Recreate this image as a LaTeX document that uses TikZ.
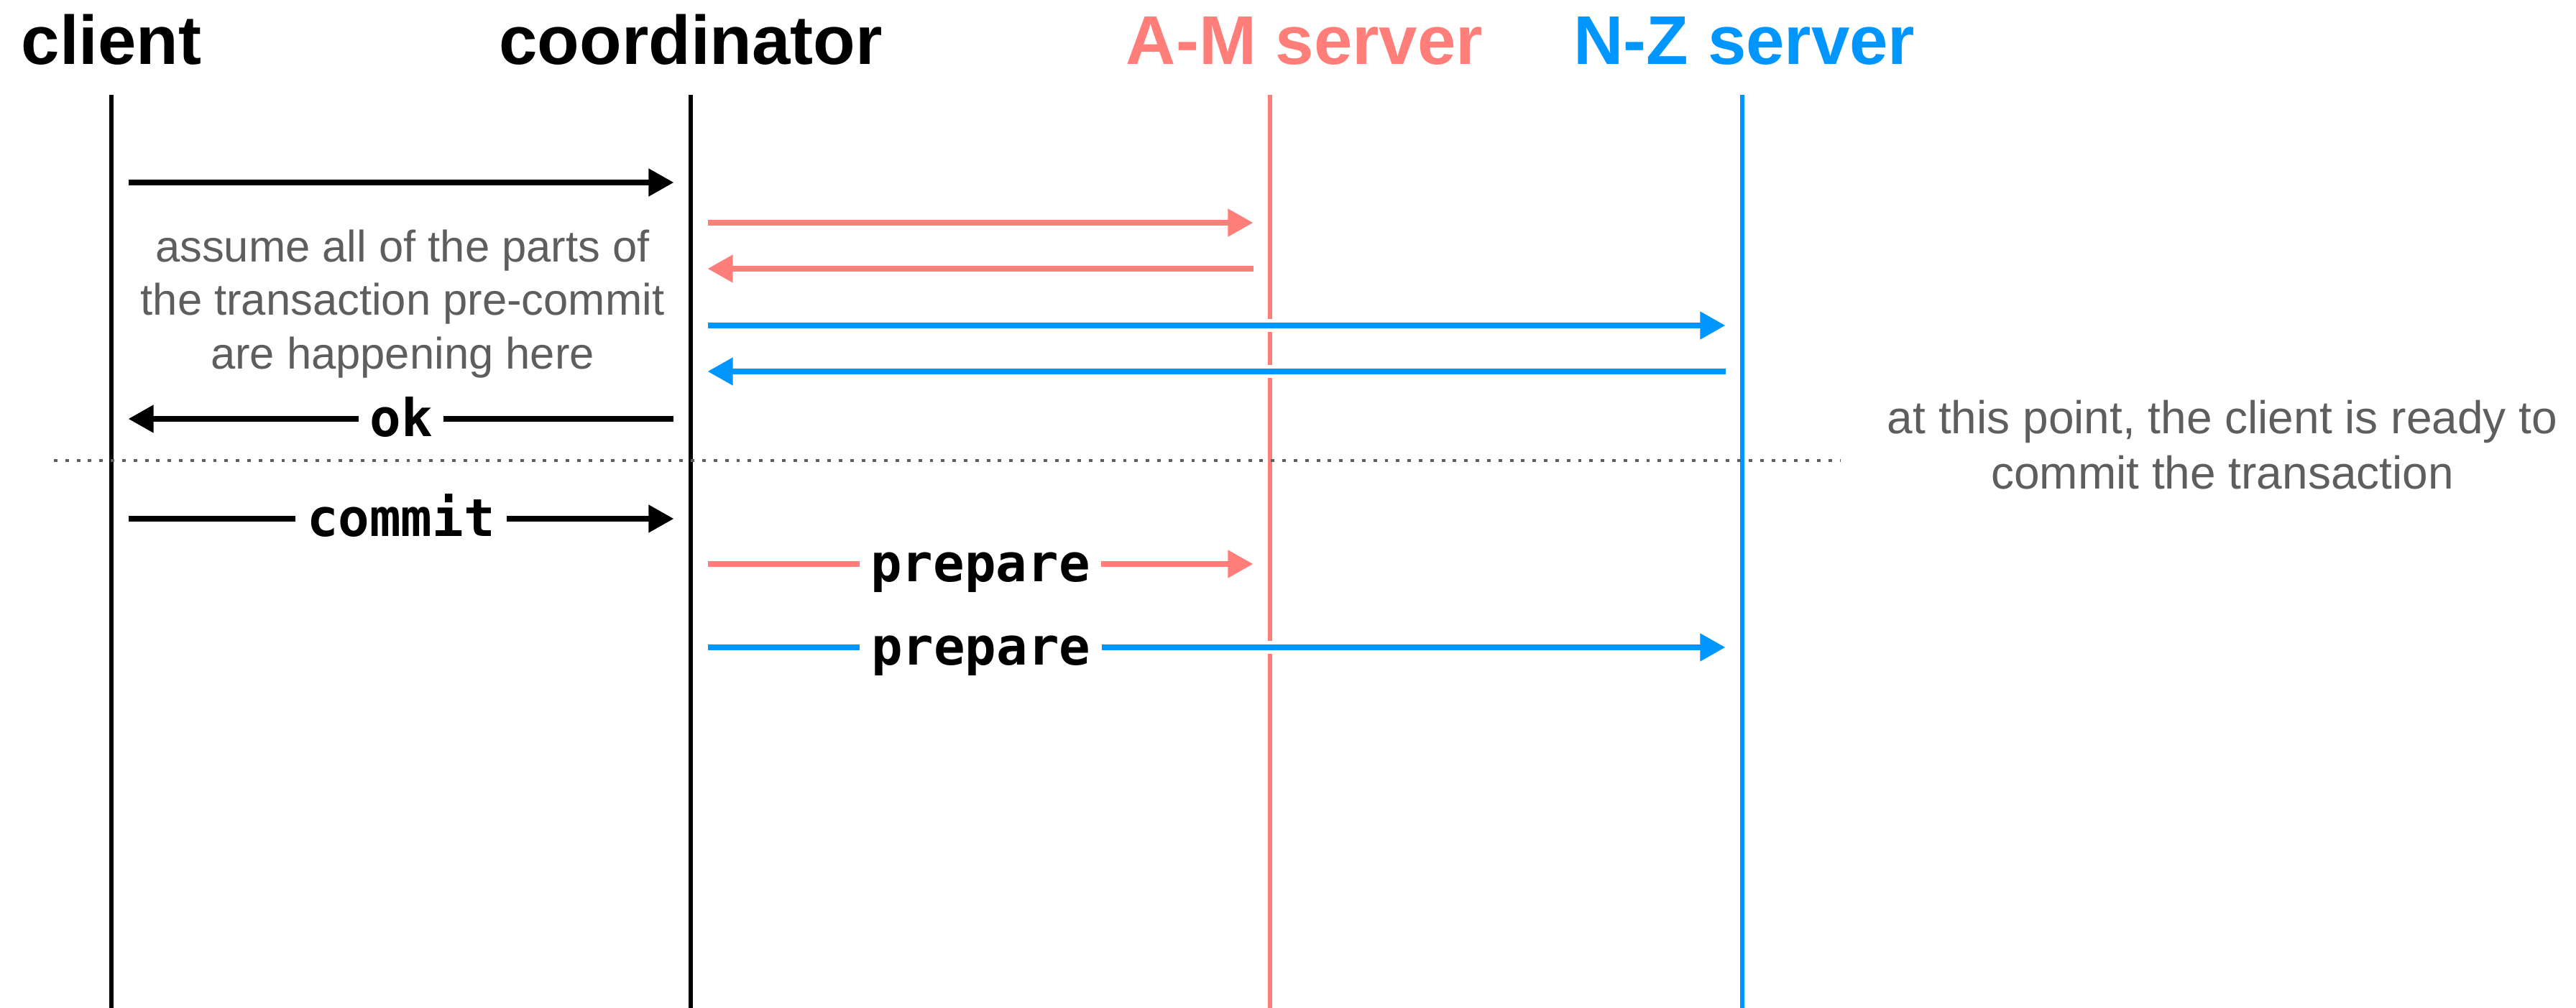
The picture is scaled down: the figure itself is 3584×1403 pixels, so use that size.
\documentclass[tikz,border=0pt]{standalone}
\usepackage{fontspec}
\setmainfont{Liberation Sans}
\setmonofont{DejaVu Sans Mono}
\usetikzlibrary{arrows.meta,positioning}
\definecolor{amred}{HTML}{FF7E79}
\definecolor{nzblue}{HTML}{0096FF}
\definecolor{notegray}{HTML}{5E5E5E}

\begin{document}
\begin{tikzpicture}[
    x=0.01cm, y=-0.01cm,
    actor/.style={anchor=base, font=\fontsize{27.3}{32}\selectfont\bfseries},
    life/.style={line width=1.7pt},
    msg/.style={-{Triangle[length=10pt,width=10.5pt]}, line width=2.3pt,
        shorten <=0.235cm, shorten >=0.235cm},
    over/.style={preaction={draw=white, line width=5pt, arrows=-}},
    lbl/.style={fill=white, anchor=base, yshift=-7pt, inner xsep=4.5pt, inner ysep=1pt,
        font=\fontsize{20.6}{24}\selectfont\ttfamily\bfseries, text=black},
    note/.style={align=center, text=notegray},
    sep/.style={notegray, line width=1.3pt, dash pattern=on 1.4pt off 3.1pt}
]
    \useasboundingbox (0,0) rectangle (3584,1403);

    % participants
    \node[actor] (client) at (155,89) {client};
    \node[actor] (coord) at (961,89) {coordinator};
    \node[actor, text=amred] (amsrv) at (1815,89) {A-M server};
    \node[actor, text=nzblue] (nzsrv) at (2427,89) {N-Z server};

    \coordinate (clT) at (155,132);  \coordinate (clB) at (155,1403);
    \coordinate (coT) at (961,132);  \coordinate (coB) at (961,1403);
    \coordinate (amT) at (1767,132); \coordinate (amB) at (1767,1403);
    \coordinate (nzT) at (2424,132); \coordinate (nzB) at (2424,1403);

    \draw[life] (clT) -- (clB);
    \draw[life] (coT) -- (coB);
    \draw[life, amred] (amT) -- (amB);
    \draw[life, nzblue] (nzT) -- (nzB);

    % message rows
    \coordinate (r1) at (0,254);
    \coordinate (r2) at (0,310);
    \coordinate (r3) at (0,374);
    \coordinate (r4) at (0,453);
    \coordinate (r5) at (0,517);
    \coordinate (r6) at (0,583);
    \coordinate (r7) at (0,722);
    \coordinate (r8) at (0,785);
    \coordinate (r9) at (0,901);

    \draw[msg] (clT |- r1) -- (coT |- r1);
    \draw[msg, amred] (coT |- r2) -- (amT |- r2);
    \draw[msg, amred] (amT |- r3) -- (coT |- r3);
    \draw[msg, nzblue, over] (coT |- r4) -- (nzT |- r4);
    \draw[msg, nzblue, over] (nzT |- r5) -- (coT |- r5);
    \draw[msg] (coT |- r6) -- node[lbl] {ok} (clT |- r6);

    \node[note, font=\fontsize{17.5}{21.3}\selectfont] (pre) at (560,423)
        {assume all of the parts of\\the transaction pre-commit\\are happening here};

    % client ready
    \coordinate (sepL) at (75,641);
    \coordinate (sepR) at (2560,641);
    \draw[sep] (sepL) -- (sepR);
    \node[note, font=\fontsize{18.2}{21.9}\selectfont] (ready) at (3092,619)
        {at this point, the client is ready to\\commit the transaction};

    \draw[msg] (clT |- r7) -- node[lbl] {commit} (coT |- r7);
    \draw[msg, amred] (coT |- r8) -- node[lbl] {prepare} (amT |- r8);
    \draw[msg, nzblue, over] (coT |- r9) -- node[lbl, pos=0.276] {prepare} (nzT |- r9);
\end{tikzpicture}
\end{document}
